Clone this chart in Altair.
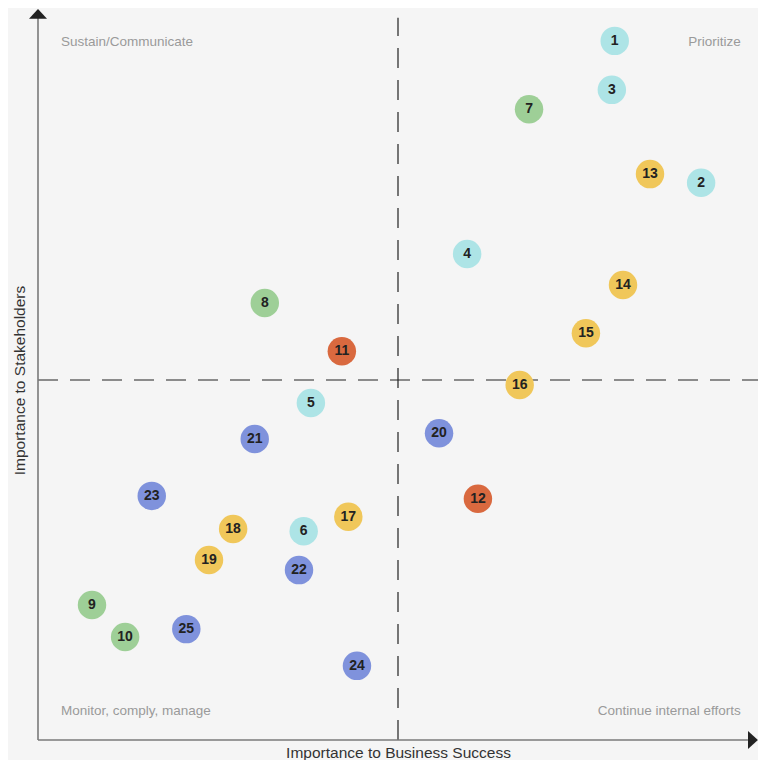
import altair as alt
import pandas as pd

# Topic ids, their group and position (0-100 scales)
ids = [str(i) for i in range(1, 26)]
groups = ["G1", "G1", "G1", "G1", "G1", "G1",
          "G2", "G2", "G2", "G2",
          "G3", "G3",
          "G4", "G4", "G4", "G4", "G4", "G4", "G4",
          "G5", "G5", "G5", "G5", "G5", "G5"]
business = [80.1, 92.1, 79.7, 59.6, 37.9, 36.9, 68.2, 31.5, 7.5, 12.1, 42.2, 61.1,
            85.0, 81.25, 76.1, 66.9, 43.1, 27.1, 23.75, 55.7, 30.1, 36.25, 15.8, 44.3, 20.6]
stakeholders = [97.1, 77.4, 90.3, 67.5, 46.8, 29.0, 87.6, 60.7, 18.75, 14.3, 54.0, 33.5,
                78.6, 63.2, 56.5, 49.3, 31.0, 29.3, 25.0, 42.6, 41.8, 23.6, 33.9, 10.3, 15.4]
group_names = ["G1", "G2", "G3", "G4", "G5"]
group_colors = ["#ade4e6", "#9ecf97", "#d9693f", "#f0c75a", "#7f92dc"]

quad_text = ["Sustain/Communicate", "Prioritize", "Monitor, comply, manage", "Continue internal efforts"]
quad_x = [3.2, 97.6, 3.2, 97.6]
quad_y = [96.9, 96.9, 4.0, 4.0]
quad_align = ["left", "right", "left", "right"]

x_title = "Importance to Business Success"
y_title = "Importance to Stakeholders"
mid = 50

pts = pd.DataFrame({"id": ids, "group": groups, "x": business, "y": stakeholders})
quads = pd.DataFrame({"t": quad_text, "x": quad_x, "y": quad_y, "a": quad_align})

sx = alt.Scale(domain=[0, 100], nice=False, zero=False)
sy = alt.Scale(domain=[0, 100], nice=False, zero=False)
ax = alt.Axis(title=x_title, domain=False, ticks=False, labels=False, grid=False,
              titleFontSize=15.5, titleFontWeight="normal", titleColor="#333", titlePadding=5)
ay = alt.Axis(title=y_title, domain=False, ticks=False, labels=False, grid=False,
              titleFontSize=15.5, titleFontWeight="normal", titleColor="#333", titlePadding=11)


def X(f="x"):
    return alt.X(f"{f}:Q", scale=sx, axis=ax)


def Y(f="y"):
    return alt.Y(f"{f}:Q", scale=sy, axis=ay)


lines = pd.DataFrame({
    "x": [mid, 0, 0, 0],
    "x2": [mid, 101.0, 98.6, 0],
    "y": [0, mid, 0, 0],
    "y2": [100.3, mid, 0, 100.3],
    "kind": ["dash", "dash", "axis", "axis"],
})

dashed = alt.Chart(lines[lines.kind == "dash"]).mark_rule(
    color="#222", strokeWidth=1.2, strokeDash=[20, 12], clip=False
).encode(x=X(), x2="x2:Q", y=Y(), y2="y2:Q")

axes = alt.Chart(lines[lines.kind == "axis"]).mark_rule(
    color="#7a7a7a", strokeWidth=1.6, clip=False
).encode(x=X(), x2="x2:Q", y=Y(), y2="y2:Q")

arrows = pd.DataFrame({"x": [0, 99.3], "y": [100.85, 0], "shape": ["up", "right"]})
arrow_up = alt.Chart(arrows[arrows["shape"] == "up"]).mark_point(
    shape="M-1,0.55L0,-0.55L1,0.55Z", filled=True, color="#222", opacity=1, size=324, clip=False
).encode(x=X(), y=Y())
arrow_right = alt.Chart(arrows[arrows["shape"] == "right"]).mark_point(
    shape="M-0.55,-1L0.55,0L-0.55,1Z", filled=True, color="#222", opacity=1, size=324, clip=False
).encode(x=X(), y=Y())

circles = alt.Chart(pts).mark_circle(size=810, opacity=1).encode(
    x=X(), y=Y(),
    color=alt.Color("group:N", scale=alt.Scale(domain=group_names, range=group_colors), legend=None),
)
labels = alt.Chart(pts).mark_text(
    fontSize=14, fontWeight="bold", color="#222", align="center", baseline="middle"
).encode(x=X(), y=Y(), text="id:N")

qleft = alt.Chart(quads[quads.a == "left"]).mark_text(
    fontSize=13.5, color="#9a9a9a", align="left", baseline="middle"
).encode(x=X(), y=Y(), text="t:N")
qright = alt.Chart(quads[quads.a == "right"]).mark_text(
    fontSize=13.5, color="#9a9a9a", align="right", baseline="middle"
).encode(x=X(), y=Y(), text="t:N")

chart = alt.layer(dashed, axes, arrow_up, arrow_right, qleft, qright, circles, labels).properties(
    width=720, height=720,
    autosize="none",
    padding={"left": 30, "top": 12, "right": 0, "bottom": 20},
    background="#f5f5f5",
    view=alt.ViewBackground(stroke=None, strokeWidth=0, strokeOpacity=0),
).configure_view(stroke=None, strokeWidth=0, strokeOpacity=0).configure(font="Liberation Sans")

chart.save("out.html", embed_options={"renderer": "svg", "actions": False})
